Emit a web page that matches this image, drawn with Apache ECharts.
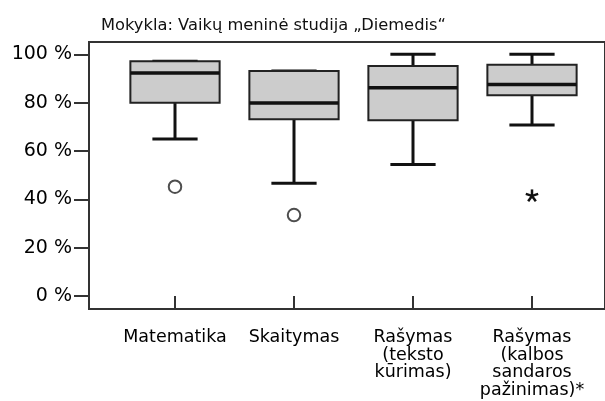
<!DOCTYPE html>
<html>
<head>
<meta charset="utf-8">
<script src="https://cdn.jsdelivr.net/npm/echarts@6/dist/echarts.min.js"></script>
<style>html,body{margin:0;padding:0;background:#fff}#c{width:605px;height:401px}</style>
</head>
<body>
<div id="c"></div>
<script>
const titleText = 'Mokykla: Vaikų meninė studija „Diemedis“';
const categories = ['Matematika', 'Skaitymas', 'Rašymas\n(teksto\nkūrimas)', 'Rašymas\n(kalbos\nsandaros\npažinimas)*'];
const mins    = [65.0, 46.6, 54.4, 70.7];
const q1s     = [80.0, 73.1, 72.7, 83.1];
const medians = [92.3, 79.9, 86.2, 87.5];
const q3s     = [97.1, 93.1, 95.2, 95.7];
const maxs    = [97.1, 93.1, 100.0, 100.0];
const outliers = [[0, 45.2], [1, 33.5]];
const extremes = [[3, 41.4]];
const yTicks = [0, 20, 40, 60, 80, 100];

const FONT = 'DejaVu Sans';
const DARK = '#222';

const boxData = categories.map((c, i) => [i, mins[i], q1s[i], medians[i], q3s[i], maxs[i]]);

const chart = echarts.init(document.getElementById('c'), null, {renderer: 'canvas'});
chart.setOption({
  animation: false,
  backgroundColor: '#fff',
  title: {
    text: titleText, left: 96, top: 13,
    textStyle: {fontFamily: FONT, fontSize: 16.3, fontWeight: 'normal', color: '#111'}
  },
  grid: [
    {left: 115.5, right: 13.5, top: 42, bottom: 92, show: false},
    {left: 89, right: -15, top: 42, bottom: 92, show: true, borderColor: '#333', borderWidth: 2, backgroundColor: 'transparent'}
  ],
  xAxis: [
    {
      type: 'category', gridIndex: 0, data: categories, boundaryGap: true,
      axisLine: {show: false},
      axisTick: {show: true, alignWithLabel: true, length: 12, lineStyle: {color: '#333', width: 2}},
      axisLabel: {fontFamily: FONT, fontSize: 17.5, lineHeight: 17.5, color: '#000', margin: 20, interval: 0},
      splitLine: {show: false}
    },
    {type: 'value', gridIndex: 1, show: false, min: 0, max: 1}
  ],
  yAxis: [
    {
      type: 'value', gridIndex: 0, min: -5.4, max: 105.1, offset: 26.5,
      axisLine: {show: false},
      axisTick: {show: true, length: 15, customValues: yTicks, lineStyle: {color: '#333', width: 2}},
      axisLabel: {customValues: yTicks, fontFamily: FONT, fontSize: 19, color: '#000', margin: 17,
                  formatter: v => v + ' %'},
      splitLine: {show: false}
    },
    {type: 'value', gridIndex: 1, show: false, min: 0, max: 1}
  ],
  series: [
    {
      type: 'custom', xAxisIndex: 0, yAxisIndex: 0,
      data: boxData,
      encode: {x: 0, y: [1, 2, 3, 4, 5]},
      renderItem: function (params, api) {
        const xi = api.value(0);
        const c = v => api.coord([xi, v]);
        const bw = api.size([1, 0])[0];
        const half = bw * 0.375;
        const capHalf = bw * 0.19;
        const pMin = c(api.value(1)), pQ1 = c(api.value(2)), pMed = c(api.value(3)),
              pQ3 = c(api.value(4)), pMax = c(api.value(5));
        const cx = pMed[0];
        const ln = (x1, y1, x2, y2, w) => ({type: 'line', shape: {x1, y1, x2, y2},
          style: {stroke: '#111', lineWidth: w}});
        return {
          type: 'group',
          children: [
            ln(cx, pQ3[1], cx, pMax[1], 3),
            ln(cx, pQ1[1], cx, pMin[1], 3),
            ln(cx - capHalf, pMax[1], cx + capHalf, pMax[1], 3),
            ln(cx - capHalf, pMin[1], cx + capHalf, pMin[1], 3),
            {type: 'rect', shape: {x: cx - half, y: pQ3[1], width: 2 * half, height: pQ1[1] - pQ3[1]},
             style: {fill: '#cccccc', stroke: DARK, lineWidth: 2}},
            ln(cx - half, pMed[1], cx + half, pMed[1], 3.5)
          ]
        };
      }
    },
    {
      type: 'scatter', xAxisIndex: 0, yAxisIndex: 0, data: outliers,
      symbol: 'emptyCircle', symbolSize: 12.5,
      itemStyle: {color: '#222', borderColor: '#222', borderWidth: 2.5}
    },
    {
      type: 'custom', xAxisIndex: 0, yAxisIndex: 0, data: extremes,
      encode: {x: 0, y: 1},
      renderItem: function (params, api) {
        const p = api.coord([api.value(0), api.value(1)]);
        const r = 6.5;
        const children = [];
        for (let k = 0; k < 5; k++) {
          const a = -Math.PI / 2 + k * 2 * Math.PI / 5;
          children.push({type: 'line', shape: {x1: p[0], y1: p[1], x2: p[0] + r * Math.cos(a), y2: p[1] + r * Math.sin(a)},
            style: {stroke: '#111', lineWidth: 2.5}});
        }
        return {type: 'group', children};
      }
    }
  ]
});
</script>
</body>
</html>
